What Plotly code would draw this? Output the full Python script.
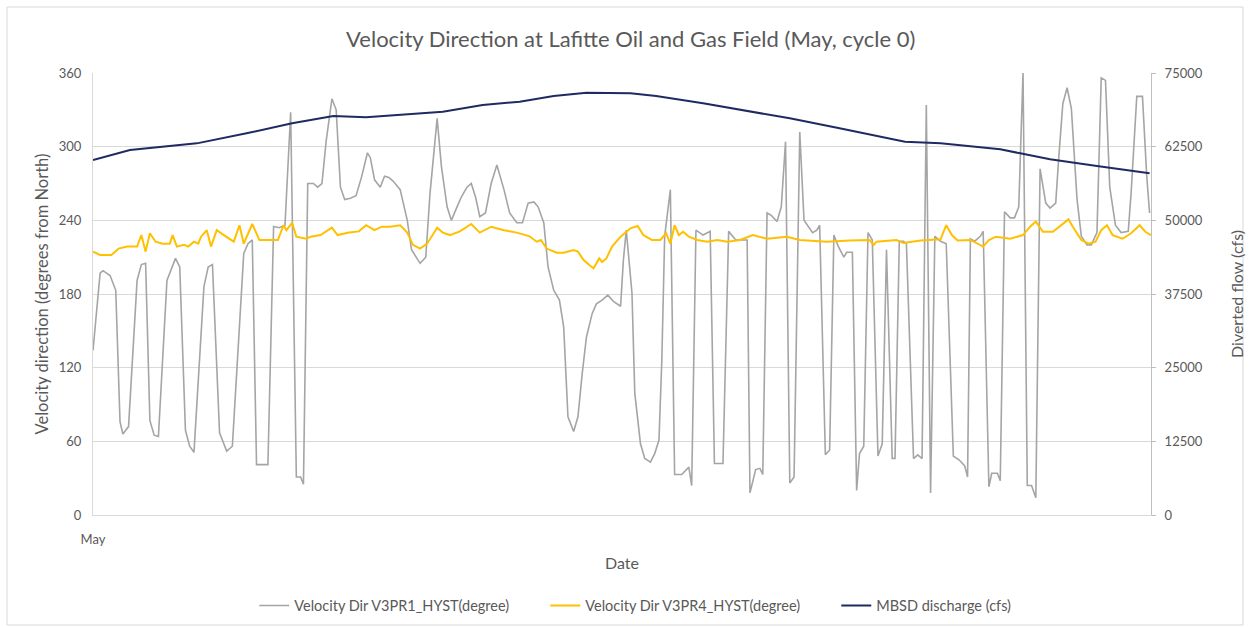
import plotly.graph_objects as go

# Hours since 1 May 00:00 and the readings at those times
v3pr1_hours = [0, 5, 7, 12, 16, 19, 21, 25, 31, 34, 37, 40, 43, 46, 52, 58, 61, 65, 68, 71,
               78, 81, 84, 89, 94, 98, 106, 109, 112, 115, 119, 123, 127, 131, 135, 139, 143, 146, 148, 151,
               155, 158, 161, 164, 168, 171, 174, 177, 181, 185, 189, 193, 195, 198, 202, 205, 208, 211, 216, 221,
               224, 228, 230, 234, 237, 242, 245, 249, 252, 256, 259, 263, 266, 269, 272, 276, 280, 284, 289, 293,
               298, 302, 306, 310, 313, 317, 320, 324, 328, 331, 334, 338, 341, 344, 347, 351, 354, 358, 362, 366,
               371, 373, 375, 379, 381, 385, 388, 392, 395, 398, 400, 402, 406, 409, 414, 419, 421, 424, 429, 434,
               437, 443, 447, 452, 457, 460, 462, 466, 469, 471, 474, 477, 481, 484, 487, 490, 493, 497, 500, 506,
               509, 511, 515, 518, 521, 524, 528, 530, 534, 537, 539, 542, 545, 548, 552, 555, 558, 562, 564, 567,
               570, 572, 577, 580, 583, 586, 589, 592, 596, 600, 605, 609, 613, 615, 617, 620, 624, 626, 630, 632,
               636, 638, 641, 645, 648, 651, 654, 657, 660, 663, 666, 670, 673, 677, 679, 682, 685, 688, 692, 695,
               699, 702, 706, 709, 712, 715, 719, 723, 728, 730, 734, 738, 741, 743]
v3pr1_deg = [134, 197, 199, 195, 183, 76, 66, 72, 191, 204, 205, 77, 65, 64, 191, 209, 202, 69, 56, 51,
             186, 202, 204, 67, 52, 56, 213, 221, 224, 41, 41, 41, 235, 234, 236, 328, 31, 31, 25, 270,
             270, 267, 270, 305, 339, 330, 267, 257, 258, 260, 276, 295, 291, 273, 267, 276, 275, 272, 265, 240,
             216, 208, 205, 210, 262, 323, 284, 251, 240, 251, 259, 267, 270, 259, 243, 246, 270, 285, 265, 246,
             238, 238, 254, 255, 251, 238, 202, 183, 175, 153, 80, 68, 80, 115, 145, 164, 172, 175, 179, 174,
             170, 208, 232, 181, 99, 58, 46, 43, 50, 61, 126, 227, 265, 33, 33, 39, 24, 232, 228, 231,
             42, 42, 231, 224, 224, 224, 18, 37, 38, 33, 246, 244, 239, 251, 304, 26, 31, 312, 240, 230,
             232, 236, 49, 53, 228, 219, 210, 214, 214, 20, 50, 56, 230, 224, 48, 58, 216, 46, 46, 223,
             223, 221, 46, 49, 46, 334, 18, 227, 223, 221, 48, 45, 40, 31, 225, 223, 227, 231, 23, 34,
             34, 28, 247, 242, 242, 251, 360, 24, 24, 14, 282, 254, 250, 254, 289, 335, 348, 331, 257, 227,
             220, 220, 230, 356, 354, 267, 236, 230, 231, 262, 341, 341, 276, 246]

v3pr4_hours = [0, 5, 13, 18, 24, 31, 34, 37, 40, 44, 49, 54, 56, 59, 64, 67, 71, 74, 76, 80,
               83, 87, 92, 99, 103, 106, 112, 117, 122, 130, 134, 136, 140, 143, 150, 153, 160, 168, 172, 180,
               187, 192, 198, 203, 209, 216, 221, 225, 230, 235, 242, 246, 251, 258, 266, 272, 280, 289, 298, 307,
               312, 315, 319, 326, 331, 338, 341, 345, 349, 352, 356, 358, 361, 365, 371, 378, 383, 387, 393, 399,
               403, 406, 409, 412, 415, 419, 425, 432, 439, 446, 455, 464, 474, 488, 497, 516, 532, 546, 549, 551,
               565, 570, 582, 596, 600, 604, 608, 617, 626, 630, 635, 645, 654, 659, 663, 668, 675, 681, 686, 689,
               695, 700, 705, 709, 713, 717, 724, 730, 736, 740, 744]
v3pr4_deg = [214.5, 211.8, 211.8, 217, 218.6, 218.6, 228, 214.5, 229.5, 222.6, 221, 221, 228, 218.6, 220, 218.6, 222.6, 221, 226.7, 232,
             218.6, 232, 228, 222.6, 236, 221, 237, 224, 224, 224, 236, 232, 238, 226.7, 225, 226.7, 228, 234, 228, 230,
             231, 236, 232, 234.8, 234.8, 236, 230, 220, 217, 221, 234, 230, 228, 231, 237, 230, 234.8, 232, 230, 227,
             222.6, 224, 217, 213.6, 213.6, 215.8, 214.5, 207.7, 203.6, 201, 209, 206, 209, 218.6, 226.7, 233.5, 235.4, 228, 224, 224,
             229.5, 221, 236, 228, 230.7, 226.7, 224, 222.6, 224, 222.6, 224, 228, 225, 226.7, 224, 222.6, 223.5, 224, 220, 222.6,
             224, 221.5, 223.5, 224.5, 236, 228, 223.5, 224, 218.6, 224, 226.7, 225, 228, 234.8, 239, 230.7, 230.7, 236, 240.8, 234.8,
             224, 221, 222.6, 232, 236, 228, 225, 229.5, 236, 230.7, 228]

mbsd_hours = [0, 26, 73, 108, 140, 153, 169, 192, 216, 246, 274, 300, 324, 347, 378,
              396, 429, 462, 490, 525, 571, 596, 617, 638, 652, 673, 706, 732, 743]
mbsd_cfs = [60240, 61930, 63060, 64760, 66460, 67020, 67700, 67480, 67870, 68440, 69570, 70140, 71100, 71660, 71550,
            71100, 69850, 68440, 67310, 65610, 63350, 63060, 62500, 62050, 61370, 60350, 59220, 58260, 57980]

series_names = ["Velocity Dir V3PR1_HYST(degree)", "Velocity Dir V3PR4_HYST(degree)", "MBSD discharge (cfs)"]
x_tick_vals = [0]
x_tick_text = ["May"]
deg_ticks = [0, 60, 120, 180, 240, 300, 360]
cfs_ticks = [0, 12500, 25000, 37500, 50000, 62500, 75000]

FONT = "Lato, 'Open Sans', sans-serif"
TXT = "#595959"
GRID = "#d9d9d9"

fig = go.Figure()
fig.add_trace(go.Scatter(x=v3pr1_hours, y=v3pr1_deg, name=series_names[0], mode="lines",
                         line=dict(color="#a5a5a5", width=1.6)))
fig.add_trace(go.Scatter(x=v3pr4_hours, y=v3pr4_deg, name=series_names[1], mode="lines",
                         line=dict(color="#ffc000", width=2)))
fig.add_trace(go.Scatter(x=mbsd_hours, y=mbsd_cfs, name=series_names[2], mode="lines", yaxis="y2",
                         line=dict(color="#1f2a63", width=2)))

fig.update_layout(
    width=1249, height=627,
    margin=dict(l=93, r=98, t=73, b=112, autoexpand=False),
    paper_bgcolor="white", plot_bgcolor="white",
    font=dict(family=FONT, color=TXT, size=13),
    title=dict(text="Velocity Direction at Lafitte Oil and Gas Field (May, cycle 0)",
               x=0.505, xanchor="center", y=0.937, yanchor="middle",
               font=dict(size=22, color=TXT, family=FONT)),
    xaxis=dict(range=[0, 744], tickvals=x_tick_vals, ticktext=x_tick_text,
               showgrid=False, zeroline=False, showline=True, linecolor=GRID, linewidth=1,
               ticks="", tickfont=dict(size=13), ticklabelstandoff=12,
               title=dict(text="Date", font=dict(size=16), standoff=12)),
    yaxis=dict(range=[0, 360], tickvals=deg_ticks, showgrid=True, gridcolor=GRID, gridwidth=1,
               zeroline=False, showline=True, linecolor=GRID, ticks="", ticklabelstandoff=8,
               tickfont=dict(size=13),
               title=dict(text="Velocity direction (degrees from North)", font=dict(size=16.5), standoff=6)),
    yaxis2=dict(range=[0, 75000], tickvals=cfs_ticks, tickformat="d", overlaying="y", side="right",
                showgrid=False, zeroline=False, showline=True, linecolor="#bfbfbf",
                ticks="outside", ticklen=4, tickcolor="#bfbfbf", tickfont=dict(size=13),
                ticklabelstandoff=6),
    annotations=[dict(text="Diverted flow (cfs)", xref="paper", yref="paper", x=1.0803, y=0.5,
                      xanchor="center", yanchor="middle", textangle=-90, showarrow=False,
                      font=dict(size=16, color=TXT, family=FONT))],
    legend=dict(orientation="h", x=0.565, xanchor="center", y=-0.205, yanchor="middle",
                font=dict(size=14.5, color=TXT), bgcolor="rgba(0,0,0,0)", itemwidth=30,
                entrywidth=246),
    shapes=[dict(type="rect", xref="paper", yref="paper", x0=-0.0813, x1=1.0870, y0=-0.2489, y1=1.1493,
                 line=dict(color=GRID, width=1), fillcolor="rgba(0,0,0,0)", layer="below")],
    showlegend=True,
)

fig.write_html("out.html")
